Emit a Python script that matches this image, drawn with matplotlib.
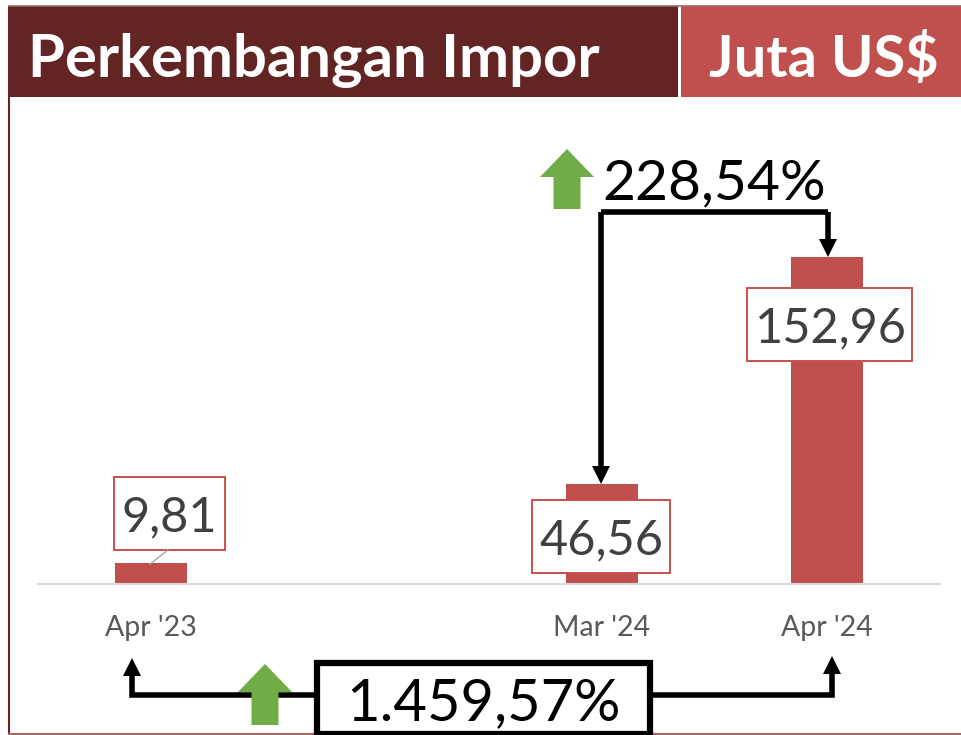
import matplotlib
matplotlib.use("Agg")
import matplotlib.pyplot as plt
from matplotlib.patches import Rectangle, Polygon

plt.rcParams['font.family'] = ['Lato', 'DejaVu Sans']

categories = ["Apr '23", "", "Mar '24", "Apr '24"]
values = [9.81, 0, 46.56, 152.96]
value_labels = ["9,81", "", "46,56", "152,96"]
title = "Perkembangan Impor"
unit = "Juta US$"
change_month = "228,54%"
change_year = "1.459,57%"

W, H = 961, 735
DARK, RED, GREEN = "#632523", "#C0504D", "#70AD47"

fig = plt.figure(figsize=(W / 100, H / 100), dpi=100, facecolor="white")


def fx(x):
    return x / W


def fy(y):
    return 1 - y / H


# chart axes: baseline at y=584, plot from x=38 to x=940
ax = fig.add_axes([fx(38), fy(584), (940 - 38) / W, (584 - 100) / H])
ax.bar(range(len(values)), values, width=0.32, color=RED, zorder=2)
ax.set_xlim(-0.5, 3.5)
ax.set_ylim(0, 484 / 2.138)
ax.set_yticks([])
ax.set_xticks([0, 2, 3])
ax.set_xticklabels([categories[0], categories[2], categories[3]], fontsize=20.5, color="#595959")
ax.tick_params(axis="x", length=0, pad=22.5)
for s in ["top", "left", "right"]:
    ax.spines[s].set_visible(False)
ax.spines["bottom"].set_color("#D9D9D9")
ax.spines["bottom"].set_linewidth(1.5)
ax.patch.set_alpha(0)

# overlay in pixel coordinates
ov = fig.add_axes([0, 0, 1, 1], zorder=5)
ov.set_xlim(0, W)
ov.set_ylim(H, 0)
ov.axis("off")
ov.patch.set_alpha(0)

# frame and header
ov.add_patch(Rectangle((9, 6), 669, 91, fc=DARK, ec="none"))
ov.add_patch(Rectangle((681, 6), 280, 91, fc=RED, ec="none"))
ov.plot([8.5, 8.5], [6, 735], color=DARK, lw=1.5, solid_capstyle="butt")
ov.plot([8, 961], [733.5, 733.5], color="#A06A6A", lw=1.5, solid_capstyle="butt")
ov.plot([8, 961], [5.5, 5.5], color="#A06A6A", lw=1.2, solid_capstyle="butt")
ov.text(28.5, 60, title, color="white", fontsize=43, fontweight="bold", va="center", ha="left")
ov.text(823.5, 60, unit, color="white", fontsize=41.5, fontweight="bold", va="center", ha="center")

# data label boxes
boxes = [(114, 477, 111, 73, 169.5), (532, 500, 138, 73, 601.5), (747, 288, 165, 73, 830.5)]
shown = [i for i, v in enumerate(value_labels) if v]
for i, (bx, by, bw, bh, cx) in zip(shown, boxes):
    ov.add_patch(Rectangle((bx, by), bw, bh, fc="white", ec="#C94F4C", lw=1.4, zorder=3))
    ov.text(cx, by + bh / 2 + 4, value_labels[i], fontsize=35, color="#404040", ha="center", va="center", zorder=4)
ov.plot([168, 150], [550, 564], color="#A6A6A6", lw=1, zorder=3)


def up_arrow(cx, top, bottom, half_head=27, head_h=28, half_shaft=13.5):
    ov.add_patch(Polygon([(cx, top), (cx + half_head, top + head_h), (cx + half_shaft, top + head_h),
                          (cx + half_shaft, bottom), (cx - half_shaft, bottom), (cx - half_shaft, top + head_h),
                          (cx - half_head, top + head_h)], fc=GREEN, ec="none", zorder=6))


def connector(xs, ys, lw=4):
    ov.plot(xs, ys, color="black", lw=lw, solid_capstyle="butt", solid_joinstyle="miter", zorder=6)


def head(cx, tip, direction, half=9, length=18):
    base = tip - direction * length
    ov.add_patch(Polygon([(cx, tip), (cx - half, base), (cx + half, base)], fc="black", ec="none", zorder=6))


# month-on-month change
up_arrow(567, 149, 209)
ov.text(714, 184, change_month, fontsize=41, color="black", ha="center", va="center", zorder=7)
connector([601, 601], [468, 212])
connector([601, 828], [212, 212])
connector([828, 828], [212, 242])
head(601, 484, 1)
head(828, 257, 1)

# year-on-year change
connector([132, 132, 318], [672, 695, 695])
connector([650, 832, 832], [695, 695, 670])
head(132, 658, -1)
head(832, 656, -1)
up_arrow(265, 664, 725)
ov.add_patch(Rectangle((317, 663), 333, 71, fc="white", ec="black", lw=4.5, zorder=6))
ov.text(483.5, 704, change_year, fontsize=41.7, color="black", ha="center", va="center", zorder=7)

fig.savefig("out.png", dpi=100)
